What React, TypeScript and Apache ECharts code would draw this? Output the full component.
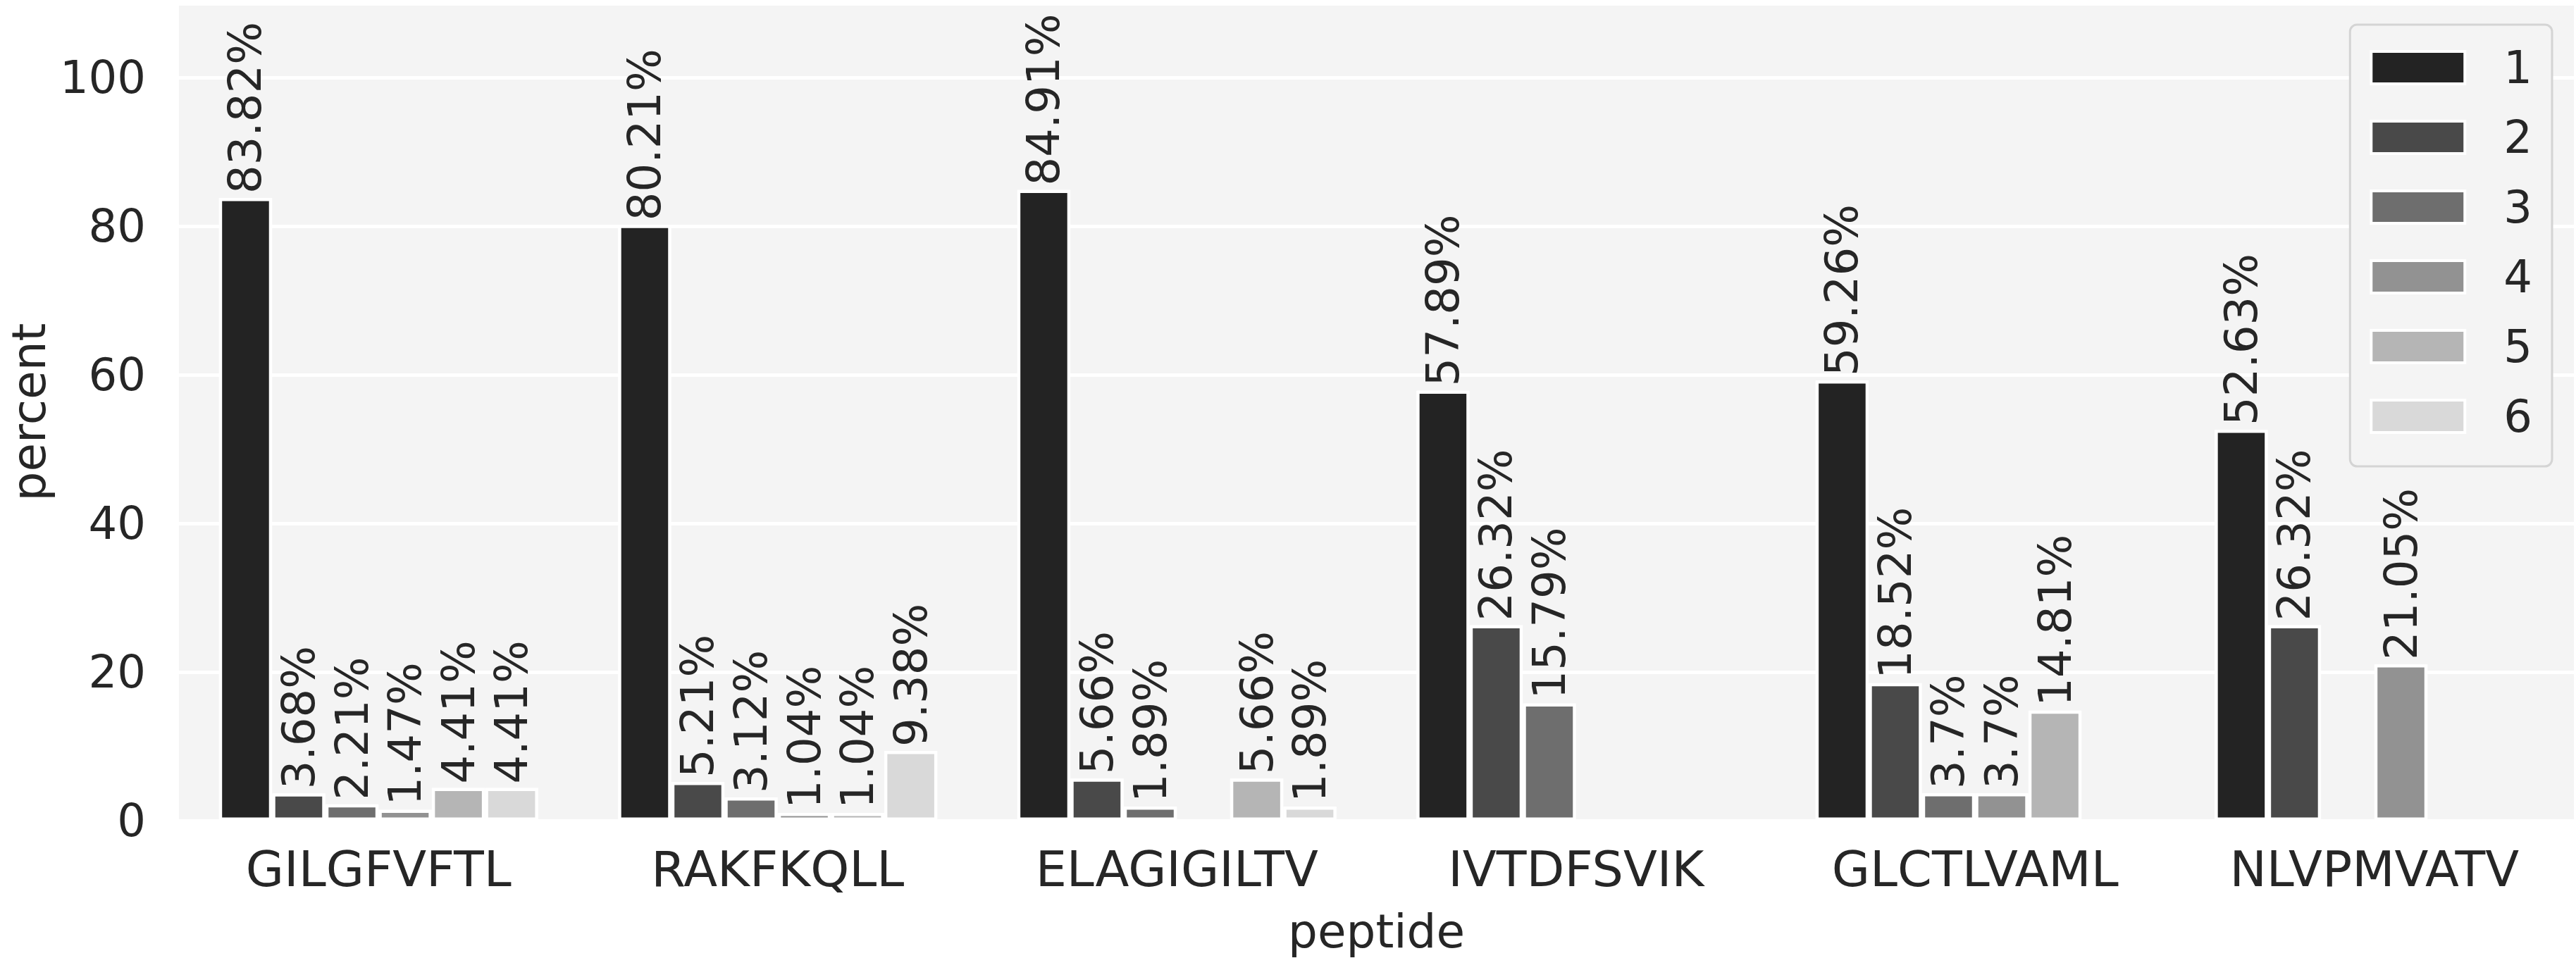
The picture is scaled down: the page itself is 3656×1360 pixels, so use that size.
import React, { useEffect, useRef } from "react";
import * as echarts from "echarts";

const categories = ["GILGFVFTL", "RAKFKQLL", "ELAGIGILTV", "IVTDFSVIK", "GLCTLVAML", "NLVPMVATV"];
const seriesNames = ["1", "2", "3", "4", "5", "6"];
const colors = ["#232323", "#494949", "#6e6e6e", "#929292", "#b5b5b5", "#d9d9d9"];

const s1 = [83.82, 80.21, 84.91, 57.89, 59.26, 52.63];
const s2 = [3.68, 5.21, 5.66, 26.32, 18.52, 26.32];
const s3 = [2.21, 3.12, 1.89, 15.79, 3.7, null];
const s4 = [1.47, 1.04, null, null, 3.7, 21.05];
const s5 = [4.41, 1.04, 5.66, null, 14.81, null];
const s6 = [4.41, 9.38, 1.89, null, null, null];
const seriesValues = [s1, s2, s3, s4, s5, s6];

const yTicks = [0, 20, 40, 60, 80, 100];

const FONT = "DejaVu Sans";
const TEXT = "#262626";

export default function App() {
  const ref = useRef<HTMLDivElement>(null);
  useEffect(() => {
    document.body.style.margin = "0";
    if (!ref.current) return;
    const chart = echarts.init(ref.current, null, { renderer: "svg" });
    chart.setOption({
      animation: false,
      backgroundColor: "#ffffff",
      textStyle: { fontFamily: FONT, color: TEXT },
      grid: {
        left: 251,
        right: 3,
        top: 5,
        bottom: 194,
        show: true,
        backgroundColor: "#f4f4f4",
        borderWidth: 0,
        containLabel: false,
      },
      legend: {
        orient: "vertical",
        right: 34,
        top: 35,
        padding: [29, 28, 39, 28],
        itemWidth: 133,
        itemHeight: 46,
        itemGap: 35,
        icon: "rect",
        backgroundColor: "#f4f4f4",
        borderColor: "#d4d4d4",
        borderWidth: 3,
        borderRadius: 10,
        itemStyle: { borderColor: "#ffffff", borderWidth: 4 },
        textStyle: {
          fontFamily: FONT,
          fontSize: 64,
          color: TEXT,
          lineHeight: 64,
          padding: [0, 0, 0, 50],
        },
        data: seriesNames,
      },
      xAxis: {
        type: "category",
        data: categories,
        axisLine: { show: false },
        axisTick: { show: false },
        axisLabel: { fontFamily: FONT, fontSize: 70, color: TEXT, margin: 34 },
        splitLine: { show: false },
        name: "peptide",
        nameLocation: "middle",
        nameGap: 124,
        nameTextStyle: { fontFamily: FONT, fontSize: 66, color: TEXT },
      },
      yAxis: {
        type: "value",
        min: 0,
        max: 110,
        interval: 20,
        axisLine: { show: false },
        axisTick: { show: false },
        axisLabel: {
          fontFamily: FONT,
          fontSize: 64,
          color: TEXT,
          margin: 47,
          formatter: (v: number) => (yTicks.includes(v) ? String(v) : ""),
        },
        splitLine: { show: true, lineStyle: { color: "#ffffff", width: 5 } },
        name: "percent",
        nameLocation: "middle",
        nameGap: 180,
        nameTextStyle: { fontFamily: FONT, fontSize: 66, color: TEXT },
      },
      series: seriesNames.map((name, i) => ({
        type: "bar",
        name,
        data: seriesValues[i].map((v) => (v === null ? "-" : v)),
        barGap: "0%",
        barCategoryGap: "20%",
        itemStyle: { color: colors[i], borderColor: "#ffffff", borderWidth: 4.5 },
        label: {
          show: true,
          position: "top",
          rotate: 90,
          align: "left",
          verticalAlign: "middle",
          distance: 6,
          fontFamily: FONT,
          fontSize: 64,
          color: TEXT,
          formatter: (p: any) => `${p.value}%`,
        },
      })),
    });
    return () => chart.dispose();
  }, []);
  return <div ref={ref} style={{ width: 3656, height: 1360 }} />;
}
